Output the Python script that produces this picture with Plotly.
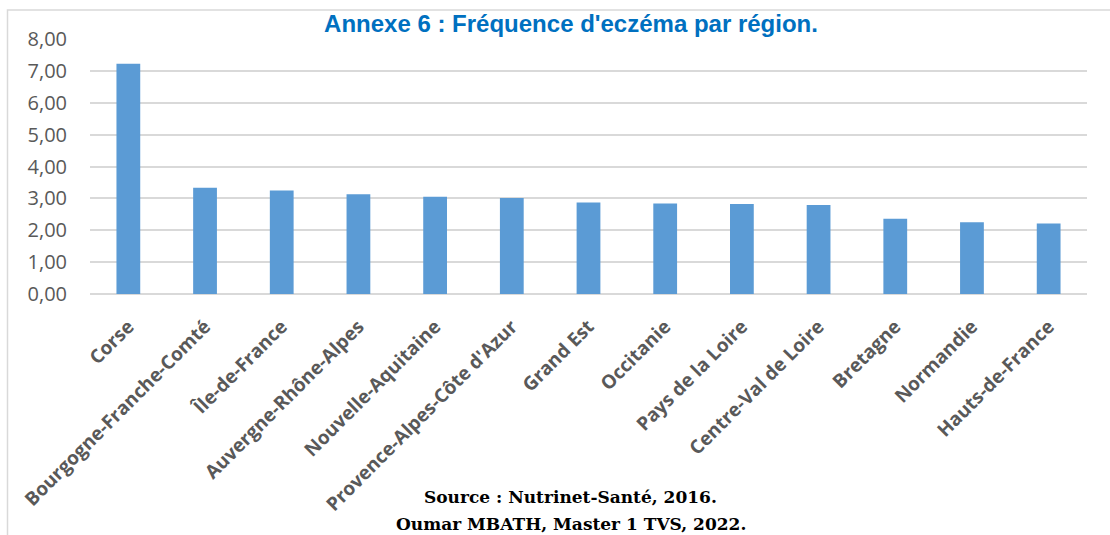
import plotly.graph_objects as go

# Regions and eczema frequency (%)
regions = [
    "Corse", "Bourgogne-Franche-Comté", "Île-de-France", "Auvergne-Rhône-Alpes",
    "Nouvelle-Aquitaine", "Provence-Alpes-Côte d'Azur", "Grand Est", "Occitanie",
    "Pays de la Loire", "Centre-Val de Loire", "Bretagne", "Normandie", "Hauts-de-France",
]
frequency = [7.22, 3.33, 3.25, 3.13, 3.05, 3.01, 2.87, 2.84, 2.82, 2.79, 2.36, 2.25, 2.21]

W, H = 1110, 535
L, R, T, B = 90, 23, 39, 241
plot_w = W - L - R
plot_h = H - T - B


def px_x(x):
    return (x - L) / plot_w


def px_y(y):
    return (H - B - y) / plot_h


fig = go.Figure(
    go.Bar(
        x=regions,
        y=frequency,
        marker=dict(color="#5B9BD5", line=dict(width=0)),
        hovertemplate="%{x}: %{y:.2f}<extra></extra>",
    )
)

fig.update_layout(
    width=W,
    height=H,
    margin=dict(l=L, r=R, t=T, b=B),
    paper_bgcolor="white",
    plot_bgcolor="white",
    separators=", ",
    bargap=0.69,
    showlegend=False,
    title=dict(
        text="<b>Annexe 6 : Fréquence d'eczéma par région.</b>",
        font=dict(family="Liberation Sans, Arial", size=24, color="#0070C0"),
        x=571 / W,
        xanchor="center",
        y=1 - 24 / H,
        yanchor="middle",
    ),
    xaxis=dict(
        tickangle=-45,
        tickfont=dict(family="Open Sans", size=19, color="#595959", weight="bold"),
        showgrid=False,
        showline=False,
        ticks="outside",
        ticklen=13,
        tickcolor="rgba(0,0,0,0)",
    ),
    yaxis=dict(
        range=[0, 8],
        dtick=1,
        tickformat=".2f",
        tickfont=dict(family="Open Sans", size=20, color="#595959"),
        gridcolor="#D9D9D9",
        gridwidth=1.5,
        zeroline=True,
        zerolinecolor="#D9D9D9",
        zerolinewidth=1.5,
        showline=False,
        ticks="outside",
        ticklen=18,
        tickcolor="rgba(0,0,0,0)",
    ),
)

# Chart frame
fig.add_shape(
    type="rect",
    xref="paper", yref="paper",
    x0=px_x(7.5), x1=px_x(1116),
    y0=px_y(541), y1=px_y(10),
    line=dict(color="#D9D9D9", width=1.5),
    fillcolor="rgba(0,0,0,0)",
    layer="below",
)

serif = dict(family="Georgia, DejaVu Serif, Liberation Serif", size=17, color="black")
fig.add_annotation(
    text="<b>Source : Nutrinet-Santé, 2016.</b>",
    xref="paper", yref="paper",
    x=px_x(570), y=px_y(497),
    xanchor="center", yanchor="middle",
    showarrow=False, font=serif,
)
fig.add_annotation(
    text="<b>Oumar MBATH, Master 1 TVS, 2022.</b>",
    xref="paper", yref="paper",
    x=px_x(571), y=px_y(524),
    xanchor="center", yanchor="middle",
    showarrow=False, font=serif,
)

fig.write_html("out.html")
